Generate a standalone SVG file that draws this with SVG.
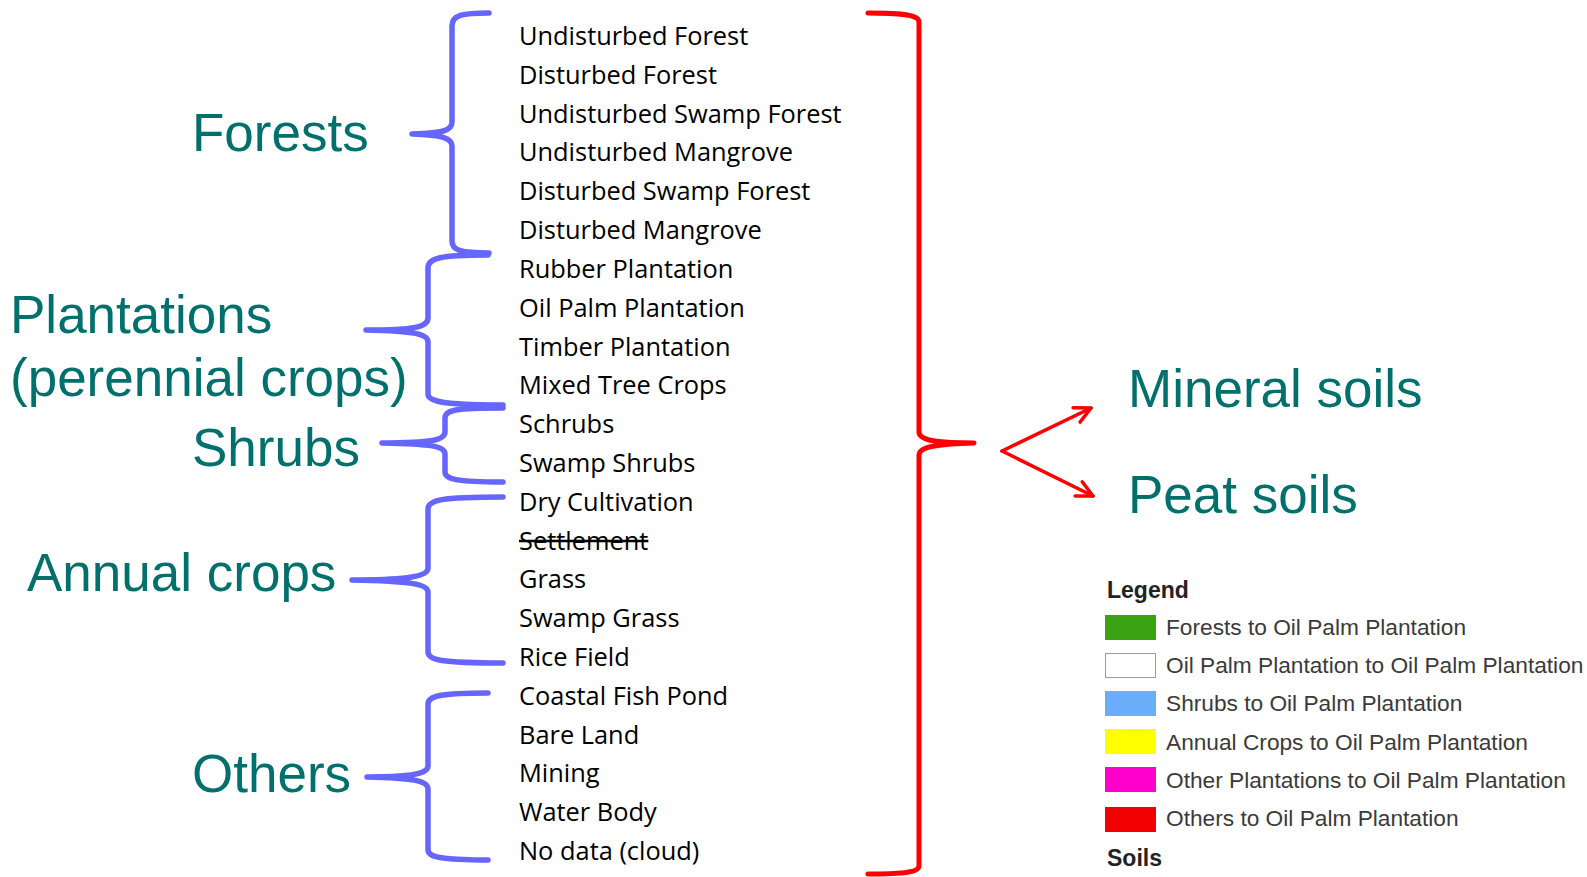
<svg xmlns="http://www.w3.org/2000/svg" width="1587" height="877" viewBox="0 0 1587 877">
<style>
.item{font-family:"Open Sans","Liberation Sans",sans-serif;font-size:25.4px;fill:#000}
.group{font-family:"Liberation Sans",Arial,sans-serif;font-size:53px;fill:#00706C}
.blue{fill:none;stroke:#6666FF;stroke-width:5.5;stroke-linecap:round;stroke-linejoin:round}
.red{fill:none;stroke:#FF0000;stroke-width:5;stroke-linecap:round;stroke-linejoin:round}
.arrow{fill:none;stroke:#FF0000;stroke-width:3.5;stroke-linecap:round;stroke-linejoin:round}
.lgt{font-family:"Liberation Sans",Arial,sans-serif;font-size:22.7px;fill:#3a3a3a}
.lgh{font-family:"Liberation Sans",Arial,sans-serif;font-size:23px;font-weight:bold;fill:#222}
.sw{stroke:#9a9a9a;stroke-width:1}
</style>
<defs>
<marker id="open" viewBox="0 0 20 20" refX="18" refY="10" markerWidth="20" markerHeight="20" markerUnits="userSpaceOnUse" orient="auto">
<path d="M2,2 L18,10 L2,18" fill="none" stroke="#FF0000" stroke-width="3.5" stroke-linecap="round" stroke-linejoin="round"/>
</marker>
</defs>
<rect width="1587" height="877" fill="#fff"/>

<g id="items">
<text class="item" x="519" y="45">Undisturbed Forest</text>
<text class="item" x="519" y="84">Disturbed Forest</text>
<text class="item" x="519" y="123">Undisturbed Swamp Forest</text>
<text class="item" x="519" y="161">Undisturbed Mangrove</text>
<text class="item" x="519" y="200">Disturbed Swamp Forest</text>
<text class="item" x="519" y="239">Disturbed Mangrove</text>
<text class="item" x="519" y="278">Rubber Plantation</text>
<text class="item" x="519" y="317">Oil Palm Plantation</text>
<text class="item" x="519" y="356">Timber Plantation</text>
<text class="item" x="519" y="394">Mixed Tree Crops</text>
<text class="item" x="519" y="433">Schrubs</text>
<text class="item" x="519" y="472">Swamp Shrubs</text>
<text class="item" x="519" y="511">Dry Cultivation</text>
<text class="item" x="519" y="550" text-decoration="line-through">Settlement</text>
<text class="item" x="519" y="588">Grass</text>
<text class="item" x="519" y="627">Swamp Grass</text>
<text class="item" x="519" y="666">Rice Field</text>
<text class="item" x="519" y="705">Coastal Fish Pond</text>
<text class="item" x="519" y="744">Bare Land</text>
<text class="item" x="519" y="782">Mining</text>
<text class="item" x="519" y="821">Water Body</text>
<text class="item" x="519" y="860">No data (cloud)</text>
</g>

<g id="forests">
<text class="group" x="192" y="151">Forests</text>
</g>
<g id="plantations">
<text class="group" x="10" y="333">Plantations</text>
<text class="group" x="10" y="396">(perennial crops)</text>
</g>
<g id="shrubs">
<text class="group" x="192" y="466">Shrubs</text>
</g>
<g id="annual">
<text class="group" x="27" y="591">Annual crops</text>
</g>
<g id="others">
<text class="group" x="192" y="792">Others</text>
</g>
<g id="mineral">
<text class="group" x="1128" y="407">Mineral soils</text>
</g>
<g id="peat">
<text class="group" x="1128" y="513">Peat soils</text>
</g>

<g id="connectors">
<path class="blue" d="M489,13 C462,13 452,15 452,26 L452,122 C452,131 442,133 412,134 C442,135 452,138 452,146 L452,241 C452,251 462,253 489,253"/>
<path class="blue" d="M488,255 C440,255 428,258 428,268 L428,318 C428,327 415,330 366,330 C415,331 428,334 428,342 L428,394 C428,402 445,405 503,405"/>
<path class="blue" d="M503,408 C455,408 445,410 445,418 L445,432 C445,440 432,443 382,443 C432,444 445,446 445,454 L445,472 C445,479 455,482 503,482"/>
<path class="blue" d="M503,497 C440,497 428,500 428,509 L428,568 C428,576 410,580 352,580 C410,581 428,584 428,592 L428,652 C428,660 440,663 503,663"/>
<path class="blue" d="M488,693 C440,693 428,696 428,704 L428,766 C428,773 415,777 367,777 C415,778 428,781 428,789 L428,850 C428,857 440,860 488,860"/>
<path class="red" d="M868,13 C905,13 919,15 919,22 L919,432 C919,440 935,443 974,443 C935,444 919,447 919,455 L919,866 C919,872 905,874 868,874"/>
<path class="arrow" d="M1002,451 L1091,408" marker-end="url(#open)"/>
<path class="arrow" d="M1002,451 L1093,496" marker-end="url(#open)"/>
</g>

<g id="legend">
<text class="lgh" x="1107" y="598">Legend</text>
<rect x="1105" y="615" width="51" height="25" fill="#3AA312"/>
<text class="lgt" x="1166" y="635">Forests to Oil Palm Plantation</text>
<rect x="1105.5" y="653.5" width="50" height="24" fill="#fff" class="sw"/>
<text class="lgt" x="1166" y="673">Oil Palm Plantation to Oil Palm Plantation</text>
<rect x="1105" y="691" width="51" height="25" fill="#6AAEFA"/>
<text class="lgt" x="1166" y="711">Shrubs to Oil Palm Plantation</text>
<rect x="1105" y="729" width="51" height="25" fill="#FFFF00"/>
<text class="lgt" x="1166" y="750">Annual Crops to Oil Palm Plantation</text>
<rect x="1105" y="767" width="51" height="25" fill="#FF00CC"/>
<text class="lgt" x="1166" y="788">Other Plantations to Oil Palm Plantation</text>
<rect x="1105" y="807" width="51" height="25" fill="#F00000"/>
<text class="lgt" x="1166" y="826">Others to Oil Palm Plantation</text>
<text class="lgh" x="1107" y="866">Soils</text>
</g>
</svg>
